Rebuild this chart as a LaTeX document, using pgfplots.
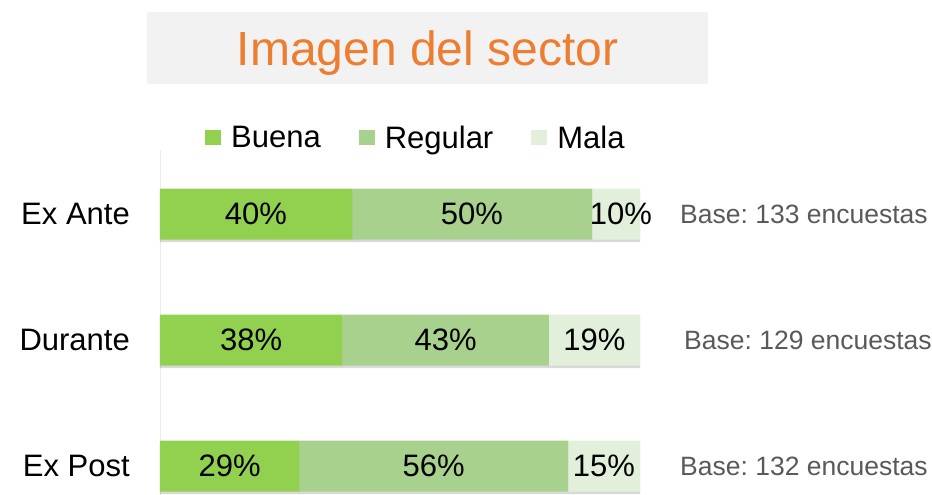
\documentclass[border=0pt]{standalone}
\usepackage{pgfplots}
\pgfplotsset{compat=1.18}
\usepackage{fontspec}
\setmainfont{Liberation Sans}
\frenchspacing
\definecolor{cBuena}{HTML}{92D050}
\definecolor{cRegular}{HTML}{A9D18E}
\definecolor{cMala}{HTML}{E2EFDA}
\definecolor{cTitle}{HTML}{ED7D31}
\definecolor{cBox}{HTML}{F2F2F2}
\definecolor{cBase}{HTML}{595959}
\tikzset{pct/.style={font=\fontsize{31}{37}\selectfont, inner sep=0pt},
  basetxt/.style={font=\fontsize{26.5}{31}\selectfont, text=cBase, anchor=west, inner sep=0pt}}
\begin{document}
\begin{tikzpicture}
\path[use as bounding box] (0pt,0pt) rectangle (932pt,495pt);
\fill[cBox] (147pt,411pt) rectangle (708pt,483pt);
\node[anchor=base, text=cTitle, font=\fontsize{48}{56}\selectfont, inner sep=0pt] at (427.5pt,429pt) {Imagen del sector};
\begin{axis}[
  at={(160pt,0pt)}, anchor=south west,
  scale only axis, width=480pt, height=345pt,
  xbar stacked, bar width=51pt,
  xmin=0, xmax=100, ymin=-0.23, ymax=2.508,
  axis x line=none,
  axis y line=left, y axis line style={draw=black!8, -},
  ytick={0,1,2}, yticklabels={Ex Post, Durante, Ex Ante},
  major tick length=0pt,
  yticklabel style={font=\fontsize{31}{37}\selectfont, anchor=east, inner sep=0pt, xshift=-30pt},
  legend columns=3,
  legend style={draw=none, fill=none, at={(0.533,1.035)}, anchor=center,
    font=\fontsize{31}{37}\selectfont,
    /tikz/every even column/.append style={column sep=36pt},
    /tikz/every odd column/.append style={column sep=8pt}},
  every axis plot/.append style={draw=none, preaction={fill=black, fill opacity=0.15, transform canvas={yshift=-2.5pt}}},
  clip=false,
]
\addplot[fill=cBuena, legend image code/.code={\pgfsetfillcolor{cBuena}\pgfpathrectangle{\pgfpoint{0pt}{-7.5pt}}{\pgfpoint{16pt}{15pt}}\pgfusepath{fill}}] coordinates {(29,0) (38,1) (40,2)};
\addplot[fill=cRegular, legend image code/.code={\pgfsetfillcolor{cRegular}\pgfpathrectangle{\pgfpoint{0pt}{-7.5pt}}{\pgfpoint{16pt}{15pt}}\pgfusepath{fill}}] coordinates {(56,0) (43,1) (50,2)};
\addplot[fill=cMala, legend image code/.code={\pgfsetfillcolor{cMala}\pgfpathrectangle{\pgfpoint{0pt}{-7.5pt}}{\pgfpoint{16pt}{15pt}}\pgfusepath{fill}}] coordinates {(15,0) (19,1) (10,2)};
\legend{Buena, Regular, Mala}
\coordinate (a1) at (axis cs:20,2);
\coordinate (a2) at (axis cs:65,2);
\coordinate (a3) at (axis cs:96,2);
\coordinate (b1) at (axis cs:19,1);
\coordinate (b2) at (axis cs:59.5,1);
\coordinate (b3) at (axis cs:90.5,1);
\coordinate (c1) at (axis cs:14.5,0);
\coordinate (c2) at (axis cs:57,0);
\coordinate (c3) at (axis cs:92.5,0);
\node[basetxt, xshift=40pt] at (axis cs:100,2) {Base: 133 encuestas};
\node[basetxt, xshift=44pt] at (axis cs:100,1) {Base: 129 encuestas};
\node[basetxt, xshift=40pt] at (axis cs:100,0) {Base: 132 encuestas};
\end{axis}
\node[pct] at (a1) {40\%};
\node[pct] at (a2) {50\%};
\node[pct] at (a3) {10\%};
\node[pct] at (b1) {38\%};
\node[pct] at (b2) {43\%};
\node[pct] at (b3) {19\%};
\node[pct] at (c1) {29\%};
\node[pct] at (c2) {56\%};
\node[pct] at (c3) {15\%};
\end{tikzpicture}
\end{document}
